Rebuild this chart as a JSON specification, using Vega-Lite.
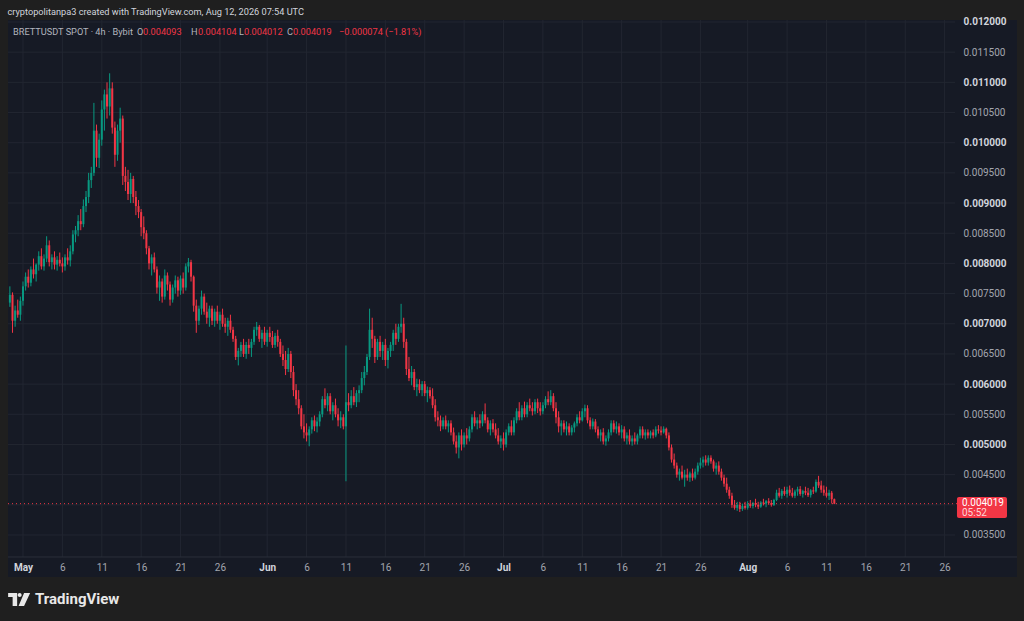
{
"$schema":"https://vega.github.io/schema/vega-lite/v6.json",
"width":1009,"height":557,
"autosize":{"type":"none"},
"padding":{"left":8,"top":20,"right":7,"bottom":44},
"background":"#1f1f1f",
"config":{"view":{"fill":"#161a25","stroke":null},"font":"Roboto"},
"title":{"text":"cryptopolitanpa3 created with TradingView.com, Aug 12, 2026 07:54 UTC","anchor":"start","offset":0,"fontSize":9.2,"fontWeight":400,"color":"#d1d4dc","font":"Roboto"},
"resolve":{"axis":{"x":"independent","y":"independent"}},
"datasets":{
"vgrid":[{"d":"2026-05-01T00:00Z"},{"d":"2026-05-06T00:00Z"},{"d":"2026-05-11T00:00Z"},{"d":"2026-05-16T00:00Z"},{"d":"2026-05-21T00:00Z"},{"d":"2026-05-26T00:00Z"},{"d":"2026-06-01T00:00Z"},{"d":"2026-06-06T00:00Z"},{"d":"2026-06-11T00:00Z"},{"d":"2026-06-16T00:00Z"},{"d":"2026-06-21T00:00Z"},{"d":"2026-06-26T00:00Z"},{"d":"2026-07-01T00:00Z"},{"d":"2026-07-06T00:00Z"},{"d":"2026-07-11T00:00Z"},{"d":"2026-07-16T00:00Z"},{"d":"2026-07-21T00:00Z"},{"d":"2026-07-26T00:00Z"},{"d":"2026-08-01T00:00Z"},{"d":"2026-08-06T00:00Z"},{"d":"2026-08-11T00:00Z"},{"d":"2026-08-16T00:00Z"},{"d":"2026-08-21T00:00Z"},{"d":"2026-08-26T00:00Z"}],
"hgrid":[{"p":0.0035},{"p":0.004},{"p":0.0045},{"p":0.005},{"p":0.0055},{"p":0.006},{"p":0.0065},{"p":0.007},{"p":0.0075},{"p":0.008},{"p":0.0085},{"p":0.009},{"p":0.0095},{"p":0.01},{"p":0.0105},{"p":0.011},{"p":0.0115},{"p":0.012}],
"last":[{"sym":"BRETTUSDT SPOT · 4h · Bybit","o":0.004093,"h":0.004104,"l":0.004012,"price":0.004019,"chg":"−0.000074 (−1.81%)","countdown":"05:52","brand":"TradingView"}],
"candles":[
{"t":"2026-04-29T08:00Z","o":0.00735,"h":0.00762,"l":0.00728,"c":0.00748},
{"t":"2026-04-29T16:00Z","o":0.00748,"h":0.00752,"l":0.00685,"c":0.00705},
{"t":"2026-04-30T00:00Z","o":0.00705,"h":0.0073,"l":0.00695,"c":0.00722},
{"t":"2026-04-30T08:00Z","o":0.00722,"h":0.0074,"l":0.0071,"c":0.00715},
{"t":"2026-04-30T16:00Z","o":0.00715,"h":0.00745,"l":0.00705,"c":0.00738},
{"t":"2026-05-01T00:00Z","o":0.00738,"h":0.0077,"l":0.0073,"c":0.00762},
{"t":"2026-05-01T08:00Z","o":0.00762,"h":0.00785,"l":0.00755,"c":0.00778},
{"t":"2026-05-01T16:00Z","o":0.00778,"h":0.0079,"l":0.0076,"c":0.00768},
{"t":"2026-05-02T00:00Z","o":0.00768,"h":0.00795,"l":0.00762,"c":0.0079},
{"t":"2026-05-02T08:00Z","o":0.0079,"h":0.00808,"l":0.00775,"c":0.00782},
{"t":"2026-05-02T16:00Z","o":0.00782,"h":0.008,"l":0.0077,"c":0.00798},
{"t":"2026-05-03T00:00Z","o":0.00798,"h":0.0082,"l":0.00788,"c":0.00812},
{"t":"2026-05-03T08:00Z","o":0.00812,"h":0.00825,"l":0.0079,"c":0.00795},
{"t":"2026-05-03T16:00Z","o":0.00795,"h":0.00815,"l":0.00788,"c":0.00808},
{"t":"2026-05-04T00:00Z","o":0.00808,"h":0.00845,"l":0.00802,"c":0.0083},
{"t":"2026-05-04T08:00Z","o":0.0083,"h":0.00838,"l":0.00795,"c":0.00802},
{"t":"2026-05-04T16:00Z","o":0.00802,"h":0.00815,"l":0.0079,"c":0.0081},
{"t":"2026-05-05T00:00Z","o":0.0081,"h":0.0082,"l":0.0079,"c":0.00798},
{"t":"2026-05-05T08:00Z","o":0.00798,"h":0.00812,"l":0.00788,"c":0.00806},
{"t":"2026-05-05T16:00Z","o":0.00806,"h":0.00818,"l":0.00795,"c":0.008},
{"t":"2026-05-06T00:00Z","o":0.008,"h":0.0081,"l":0.00785,"c":0.00795},
{"t":"2026-05-06T08:00Z","o":0.00795,"h":0.00815,"l":0.00788,"c":0.0081},
{"t":"2026-05-06T16:00Z","o":0.0081,"h":0.00825,"l":0.00798,"c":0.00805},
{"t":"2026-05-07T00:00Z","o":0.00805,"h":0.0083,"l":0.00795,"c":0.0082},
{"t":"2026-05-07T08:00Z","o":0.0082,"h":0.00855,"l":0.00815,"c":0.00848},
{"t":"2026-05-07T16:00Z","o":0.00848,"h":0.00862,"l":0.00835,"c":0.00855},
{"t":"2026-05-08T00:00Z","o":0.00855,"h":0.0088,"l":0.00845,"c":0.0087},
{"t":"2026-05-08T08:00Z","o":0.0087,"h":0.0089,"l":0.00855,"c":0.00865},
{"t":"2026-05-08T16:00Z","o":0.00865,"h":0.00906,"l":0.0086,"c":0.00895},
{"t":"2026-05-09T00:00Z","o":0.00895,"h":0.0092,"l":0.00885,"c":0.0091},
{"t":"2026-05-09T08:00Z","o":0.0091,"h":0.0095,"l":0.009,"c":0.00938},
{"t":"2026-05-09T16:00Z","o":0.00938,"h":0.0096,"l":0.00925,"c":0.0095},
{"t":"2026-05-10T00:00Z","o":0.0095,"h":0.01066,"l":0.00945,"c":0.0102},
{"t":"2026-05-10T08:00Z","o":0.0102,"h":0.0103,"l":0.0096,"c":0.00975},
{"t":"2026-05-10T16:00Z","o":0.00975,"h":0.01015,"l":0.00958,"c":0.01005},
{"t":"2026-05-11T00:00Z","o":0.01005,"h":0.0107,"l":0.00995,"c":0.01055},
{"t":"2026-05-11T08:00Z","o":0.01055,"h":0.01088,"l":0.0102,"c":0.0108},
{"t":"2026-05-11T16:00Z","o":0.0108,"h":0.011,"l":0.0104,"c":0.0106},
{"t":"2026-05-12T00:00Z","o":0.0106,"h":0.01115,"l":0.01045,"c":0.0109},
{"t":"2026-05-12T08:00Z","o":0.0109,"h":0.011,"l":0.01015,"c":0.01025},
{"t":"2026-05-12T16:00Z","o":0.01025,"h":0.01035,"l":0.0096,"c":0.0098},
{"t":"2026-05-13T00:00Z","o":0.0098,"h":0.0103,"l":0.0097,"c":0.0102},
{"t":"2026-05-13T08:00Z","o":0.0102,"h":0.01058,"l":0.01,"c":0.0104},
{"t":"2026-05-13T16:00Z","o":0.0104,"h":0.01045,"l":0.0093,"c":0.00945},
{"t":"2026-05-14T00:00Z","o":0.00945,"h":0.0096,"l":0.0092,"c":0.00935},
{"t":"2026-05-14T08:00Z","o":0.00935,"h":0.00955,"l":0.00905,"c":0.00915},
{"t":"2026-05-14T16:00Z","o":0.00915,"h":0.0095,"l":0.009,"c":0.0094},
{"t":"2026-05-15T00:00Z","o":0.0094,"h":0.00945,"l":0.009,"c":0.0091},
{"t":"2026-05-15T08:00Z","o":0.0091,"h":0.0092,"l":0.0088,"c":0.00895},
{"t":"2026-05-15T16:00Z","o":0.00895,"h":0.00905,"l":0.00875,"c":0.00885},
{"t":"2026-05-16T00:00Z","o":0.00885,"h":0.0089,"l":0.00845,"c":0.0086},
{"t":"2026-05-16T08:00Z","o":0.0086,"h":0.00878,"l":0.0084,"c":0.0085},
{"t":"2026-05-16T16:00Z","o":0.0085,"h":0.00855,"l":0.00815,"c":0.00825},
{"t":"2026-05-17T00:00Z","o":0.00825,"h":0.00829,"l":0.0079,"c":0.008},
{"t":"2026-05-17T08:00Z","o":0.008,"h":0.00815,"l":0.0078,"c":0.0081},
{"t":"2026-05-17T16:00Z","o":0.0081,"h":0.00818,"l":0.00785,"c":0.0079},
{"t":"2026-05-18T00:00Z","o":0.0079,"h":0.00795,"l":0.0075,"c":0.0076},
{"t":"2026-05-18T08:00Z","o":0.0076,"h":0.0078,"l":0.00738,"c":0.0077},
{"t":"2026-05-18T16:00Z","o":0.0077,"h":0.00775,"l":0.00735,"c":0.00745},
{"t":"2026-05-19T00:00Z","o":0.00745,"h":0.0079,"l":0.0074,"c":0.0078},
{"t":"2026-05-19T08:00Z","o":0.0078,"h":0.00785,"l":0.00755,"c":0.00765},
{"t":"2026-05-19T16:00Z","o":0.00765,"h":0.0077,"l":0.0073,"c":0.0074},
{"t":"2026-05-20T00:00Z","o":0.0074,"h":0.00765,"l":0.00735,"c":0.0076},
{"t":"2026-05-20T08:00Z","o":0.0076,"h":0.0078,"l":0.0075,"c":0.00772},
{"t":"2026-05-20T16:00Z","o":0.00772,"h":0.00778,"l":0.00745,"c":0.00755},
{"t":"2026-05-21T00:00Z","o":0.00755,"h":0.0078,"l":0.00748,"c":0.00775},
{"t":"2026-05-21T08:00Z","o":0.00775,"h":0.00785,"l":0.0075,"c":0.0076},
{"t":"2026-05-21T16:00Z","o":0.0076,"h":0.008,"l":0.00755,"c":0.00795},
{"t":"2026-05-22T00:00Z","o":0.00795,"h":0.00809,"l":0.00785,"c":0.00802},
{"t":"2026-05-22T08:00Z","o":0.00802,"h":0.00806,"l":0.0077,"c":0.00778},
{"t":"2026-05-22T16:00Z","o":0.00778,"h":0.0078,"l":0.0072,"c":0.0073},
{"t":"2026-05-23T00:00Z","o":0.0073,"h":0.0074,"l":0.00685,"c":0.00705},
{"t":"2026-05-23T08:00Z","o":0.00705,"h":0.0073,"l":0.00698,"c":0.00725},
{"t":"2026-05-23T16:00Z","o":0.00725,"h":0.00755,"l":0.00715,"c":0.00745},
{"t":"2026-05-24T00:00Z","o":0.00745,"h":0.0075,"l":0.00715,"c":0.0072},
{"t":"2026-05-24T08:00Z","o":0.0072,"h":0.00735,"l":0.007,"c":0.0071},
{"t":"2026-05-24T16:00Z","o":0.0071,"h":0.0073,"l":0.00695,"c":0.00725},
{"t":"2026-05-25T00:00Z","o":0.00725,"h":0.0073,"l":0.00698,"c":0.00705},
{"t":"2026-05-25T08:00Z","o":0.00705,"h":0.00725,"l":0.00695,"c":0.0072},
{"t":"2026-05-25T16:00Z","o":0.0072,"h":0.0073,"l":0.007,"c":0.00705},
{"t":"2026-05-26T00:00Z","o":0.00705,"h":0.0072,"l":0.0069,"c":0.00715},
{"t":"2026-05-26T08:00Z","o":0.00715,"h":0.00725,"l":0.00695,"c":0.007},
{"t":"2026-05-26T16:00Z","o":0.007,"h":0.0071,"l":0.00685,"c":0.00695},
{"t":"2026-05-27T00:00Z","o":0.00695,"h":0.0071,"l":0.0068,"c":0.00705},
{"t":"2026-05-27T08:00Z","o":0.00705,"h":0.00715,"l":0.00685,"c":0.0069},
{"t":"2026-05-27T16:00Z","o":0.0069,"h":0.00695,"l":0.0067,"c":0.00675},
{"t":"2026-05-28T00:00Z","o":0.00675,"h":0.0068,"l":0.0064,"c":0.00645},
{"t":"2026-05-28T08:00Z","o":0.00645,"h":0.0066,"l":0.00631,"c":0.00655},
{"t":"2026-05-28T16:00Z","o":0.00655,"h":0.0067,"l":0.00645,"c":0.00665},
{"t":"2026-05-29T00:00Z","o":0.00665,"h":0.00675,"l":0.00645,"c":0.0065},
{"t":"2026-05-29T08:00Z","o":0.0065,"h":0.0067,"l":0.00642,"c":0.00665},
{"t":"2026-05-29T16:00Z","o":0.00665,"h":0.00675,"l":0.0065,"c":0.0066},
{"t":"2026-05-30T00:00Z","o":0.0066,"h":0.00675,"l":0.00645,"c":0.0067},
{"t":"2026-05-30T08:00Z","o":0.0067,"h":0.00695,"l":0.00665,"c":0.0069},
{"t":"2026-05-30T16:00Z","o":0.0069,"h":0.00703,"l":0.0068,"c":0.00695},
{"t":"2026-05-31T00:00Z","o":0.00695,"h":0.00698,"l":0.0067,"c":0.00675},
{"t":"2026-05-31T08:00Z","o":0.00675,"h":0.0069,"l":0.0066,"c":0.00685},
{"t":"2026-05-31T16:00Z","o":0.00685,"h":0.00695,"l":0.00665,"c":0.0067},
{"t":"2026-06-01T00:00Z","o":0.0067,"h":0.0069,"l":0.00662,"c":0.00685},
{"t":"2026-06-01T08:00Z","o":0.00685,"h":0.00695,"l":0.0067,"c":0.00678},
{"t":"2026-06-01T16:00Z","o":0.00678,"h":0.00688,"l":0.0066,"c":0.00665},
{"t":"2026-06-02T00:00Z","o":0.00665,"h":0.00685,"l":0.0066,"c":0.0068},
{"t":"2026-06-02T08:00Z","o":0.0068,"h":0.0069,"l":0.00662,"c":0.0067},
{"t":"2026-06-02T16:00Z","o":0.0067,"h":0.00675,"l":0.00645,"c":0.0065},
{"t":"2026-06-03T00:00Z","o":0.0065,"h":0.00664,"l":0.0063,"c":0.0064},
{"t":"2026-06-03T08:00Z","o":0.0064,"h":0.00655,"l":0.00615,"c":0.00625},
{"t":"2026-06-03T16:00Z","o":0.00625,"h":0.0066,"l":0.0062,"c":0.0065},
{"t":"2026-06-04T00:00Z","o":0.0065,"h":0.00655,"l":0.0061,"c":0.0062},
{"t":"2026-06-04T08:00Z","o":0.0062,"h":0.0063,"l":0.0058,"c":0.0059},
{"t":"2026-06-04T16:00Z","o":0.0059,"h":0.006,"l":0.00565,"c":0.00575},
{"t":"2026-06-05T00:00Z","o":0.00575,"h":0.0059,"l":0.0055,"c":0.0056},
{"t":"2026-06-05T08:00Z","o":0.0056,"h":0.00565,"l":0.00525,"c":0.0053},
{"t":"2026-06-05T16:00Z","o":0.0053,"h":0.0055,"l":0.0051,"c":0.0052},
{"t":"2026-06-06T00:00Z","o":0.0052,"h":0.00535,"l":0.00505,"c":0.00515},
{"t":"2026-06-06T08:00Z","o":0.00515,"h":0.0053,"l":0.00497,"c":0.00525},
{"t":"2026-06-06T16:00Z","o":0.00525,"h":0.00545,"l":0.00518,"c":0.0054},
{"t":"2026-06-07T00:00Z","o":0.0054,"h":0.00548,"l":0.00522,"c":0.0053},
{"t":"2026-06-07T08:00Z","o":0.0053,"h":0.00545,"l":0.0052,"c":0.00538},
{"t":"2026-06-07T16:00Z","o":0.00538,"h":0.00555,"l":0.0053,"c":0.0055},
{"t":"2026-06-08T00:00Z","o":0.0055,"h":0.0058,"l":0.00545,"c":0.00575},
{"t":"2026-06-08T08:00Z","o":0.00575,"h":0.00593,"l":0.0056,"c":0.00565},
{"t":"2026-06-08T16:00Z","o":0.00565,"h":0.00585,"l":0.00555,"c":0.0058},
{"t":"2026-06-09T00:00Z","o":0.0058,"h":0.00585,"l":0.0055,"c":0.00555},
{"t":"2026-06-09T08:00Z","o":0.00555,"h":0.0057,"l":0.0054,"c":0.00565},
{"t":"2026-06-09T16:00Z","o":0.00565,"h":0.00576,"l":0.00545,"c":0.0055},
{"t":"2026-06-10T00:00Z","o":0.0055,"h":0.0056,"l":0.0053,"c":0.0054},
{"t":"2026-06-10T08:00Z","o":0.0054,"h":0.00555,"l":0.00527,"c":0.00545},
{"t":"2026-06-10T16:00Z","o":0.00545,"h":0.0055,"l":0.00525,"c":0.0053},
{"t":"2026-06-11T00:00Z","o":0.0053,"h":0.00664,"l":0.00439,"c":0.0057},
{"t":"2026-06-11T08:00Z","o":0.0057,"h":0.00585,"l":0.00555,"c":0.00565},
{"t":"2026-06-11T16:00Z","o":0.00565,"h":0.0059,"l":0.0056,"c":0.0058},
{"t":"2026-06-12T00:00Z","o":0.0058,"h":0.00595,"l":0.00565,"c":0.0057},
{"t":"2026-06-12T08:00Z","o":0.0057,"h":0.0059,"l":0.00562,"c":0.00585},
{"t":"2026-06-12T16:00Z","o":0.00585,"h":0.00598,"l":0.0057,"c":0.0059},
{"t":"2026-06-13T00:00Z","o":0.0059,"h":0.0062,"l":0.00585,"c":0.0061},
{"t":"2026-06-13T08:00Z","o":0.0061,"h":0.0063,"l":0.00598,"c":0.0062},
{"t":"2026-06-13T16:00Z","o":0.0062,"h":0.0065,"l":0.00615,"c":0.00645},
{"t":"2026-06-14T00:00Z","o":0.00645,"h":0.00725,"l":0.0064,"c":0.0069},
{"t":"2026-06-14T08:00Z","o":0.0069,"h":0.0071,"l":0.0066,"c":0.00675},
{"t":"2026-06-14T16:00Z","o":0.00675,"h":0.0068,"l":0.00635,"c":0.00645},
{"t":"2026-06-15T00:00Z","o":0.00645,"h":0.00675,"l":0.0064,"c":0.0067},
{"t":"2026-06-15T08:00Z","o":0.0067,"h":0.0068,"l":0.00645,"c":0.00655},
{"t":"2026-06-15T16:00Z","o":0.00655,"h":0.0067,"l":0.0064,"c":0.00665},
{"t":"2026-06-16T00:00Z","o":0.00665,"h":0.00675,"l":0.0063,"c":0.0064},
{"t":"2026-06-16T08:00Z","o":0.0064,"h":0.0066,"l":0.00626,"c":0.00655},
{"t":"2026-06-16T16:00Z","o":0.00655,"h":0.0067,"l":0.00645,"c":0.00665},
{"t":"2026-06-17T00:00Z","o":0.00665,"h":0.0069,"l":0.00655,"c":0.00685},
{"t":"2026-06-17T08:00Z","o":0.00685,"h":0.007,"l":0.00665,"c":0.00675},
{"t":"2026-06-17T16:00Z","o":0.00675,"h":0.007,"l":0.0067,"c":0.00695},
{"t":"2026-06-18T00:00Z","o":0.00695,"h":0.00733,"l":0.00685,"c":0.007},
{"t":"2026-06-18T08:00Z","o":0.007,"h":0.0071,"l":0.0066,"c":0.0067},
{"t":"2026-06-18T16:00Z","o":0.0067,"h":0.00675,"l":0.00615,"c":0.00625},
{"t":"2026-06-19T00:00Z","o":0.00625,"h":0.00645,"l":0.00605,"c":0.0061},
{"t":"2026-06-19T08:00Z","o":0.0061,"h":0.0063,"l":0.00598,"c":0.0062},
{"t":"2026-06-19T16:00Z","o":0.0062,"h":0.00625,"l":0.0059,"c":0.00595},
{"t":"2026-06-20T00:00Z","o":0.00595,"h":0.00609,"l":0.0058,"c":0.006},
{"t":"2026-06-20T08:00Z","o":0.006,"h":0.00608,"l":0.00585,"c":0.0059},
{"t":"2026-06-20T16:00Z","o":0.0059,"h":0.00605,"l":0.0058,"c":0.006},
{"t":"2026-06-21T00:00Z","o":0.006,"h":0.00605,"l":0.0058,"c":0.00585},
{"t":"2026-06-21T08:00Z","o":0.00585,"h":0.00596,"l":0.0057,"c":0.0059},
{"t":"2026-06-21T16:00Z","o":0.0059,"h":0.00595,"l":0.00576,"c":0.0058},
{"t":"2026-06-22T00:00Z","o":0.0058,"h":0.00593,"l":0.0056,"c":0.00565},
{"t":"2026-06-22T08:00Z","o":0.00565,"h":0.00575,"l":0.00538,"c":0.00545},
{"t":"2026-06-22T16:00Z","o":0.00545,"h":0.00555,"l":0.0053,"c":0.0054},
{"t":"2026-06-23T00:00Z","o":0.0054,"h":0.00548,"l":0.00522,"c":0.0053},
{"t":"2026-06-23T08:00Z","o":0.0053,"h":0.00545,"l":0.00525,"c":0.0054},
{"t":"2026-06-23T16:00Z","o":0.0054,"h":0.00548,"l":0.00525,"c":0.0053},
{"t":"2026-06-24T00:00Z","o":0.0053,"h":0.0054,"l":0.0052,"c":0.00535},
{"t":"2026-06-24T08:00Z","o":0.00535,"h":0.0054,"l":0.00515,"c":0.0052},
{"t":"2026-06-24T16:00Z","o":0.0052,"h":0.00528,"l":0.005,"c":0.00505},
{"t":"2026-06-25T00:00Z","o":0.00505,"h":0.00515,"l":0.00485,"c":0.00495},
{"t":"2026-06-25T08:00Z","o":0.00495,"h":0.0052,"l":0.00477,"c":0.00515},
{"t":"2026-06-25T16:00Z","o":0.00515,"h":0.00525,"l":0.0049,"c":0.005},
{"t":"2026-06-26T00:00Z","o":0.005,"h":0.0052,"l":0.00495,"c":0.00515},
{"t":"2026-06-26T08:00Z","o":0.00515,"h":0.00527,"l":0.005,"c":0.0051},
{"t":"2026-06-26T16:00Z","o":0.0051,"h":0.0053,"l":0.00505,"c":0.00525},
{"t":"2026-06-27T00:00Z","o":0.00525,"h":0.0055,"l":0.0052,"c":0.00545},
{"t":"2026-06-27T08:00Z","o":0.00545,"h":0.00555,"l":0.0053,"c":0.00535},
{"t":"2026-06-27T16:00Z","o":0.00535,"h":0.00545,"l":0.00525,"c":0.0054},
{"t":"2026-06-28T00:00Z","o":0.0054,"h":0.0055,"l":0.00527,"c":0.00535},
{"t":"2026-06-28T08:00Z","o":0.00535,"h":0.00555,"l":0.0053,"c":0.0055},
{"t":"2026-06-28T16:00Z","o":0.0055,"h":0.00568,"l":0.00535,"c":0.0054},
{"t":"2026-06-29T00:00Z","o":0.0054,"h":0.00545,"l":0.0052,"c":0.00525},
{"t":"2026-06-29T08:00Z","o":0.00525,"h":0.0054,"l":0.00515,"c":0.00535},
{"t":"2026-06-29T16:00Z","o":0.00535,"h":0.00542,"l":0.0052,"c":0.00525},
{"t":"2026-06-30T00:00Z","o":0.00525,"h":0.00535,"l":0.0051,"c":0.00515},
{"t":"2026-06-30T08:00Z","o":0.00515,"h":0.00527,"l":0.005,"c":0.00505},
{"t":"2026-06-30T16:00Z","o":0.00505,"h":0.00515,"l":0.00494,"c":0.0051},
{"t":"2026-07-01T00:00Z","o":0.0051,"h":0.0052,"l":0.0049,"c":0.005},
{"t":"2026-07-01T08:00Z","o":0.005,"h":0.00525,"l":0.00495,"c":0.0052},
{"t":"2026-07-01T16:00Z","o":0.0052,"h":0.00535,"l":0.00515,"c":0.0053},
{"t":"2026-07-02T00:00Z","o":0.0053,"h":0.0054,"l":0.00515,"c":0.0052},
{"t":"2026-07-02T08:00Z","o":0.0052,"h":0.00545,"l":0.00515,"c":0.0054},
{"t":"2026-07-02T16:00Z","o":0.0054,"h":0.0056,"l":0.00535,"c":0.00555},
{"t":"2026-07-03T00:00Z","o":0.00555,"h":0.0057,"l":0.0054,"c":0.00545},
{"t":"2026-07-03T08:00Z","o":0.00545,"h":0.00565,"l":0.0054,"c":0.0056},
{"t":"2026-07-03T16:00Z","o":0.0056,"h":0.00571,"l":0.00545,"c":0.0055},
{"t":"2026-07-04T00:00Z","o":0.0055,"h":0.0057,"l":0.00545,"c":0.00565},
{"t":"2026-07-04T08:00Z","o":0.00565,"h":0.00576,"l":0.00555,"c":0.0056},
{"t":"2026-07-04T16:00Z","o":0.0056,"h":0.0057,"l":0.00548,"c":0.00555},
{"t":"2026-07-05T00:00Z","o":0.00555,"h":0.00575,"l":0.0055,"c":0.0057},
{"t":"2026-07-05T08:00Z","o":0.0057,"h":0.00576,"l":0.00552,"c":0.0056},
{"t":"2026-07-05T16:00Z","o":0.0056,"h":0.0057,"l":0.00548,"c":0.00555},
{"t":"2026-07-06T00:00Z","o":0.00555,"h":0.0057,"l":0.0055,"c":0.00565},
{"t":"2026-07-06T08:00Z","o":0.00565,"h":0.0058,"l":0.0056,"c":0.00575},
{"t":"2026-07-06T16:00Z","o":0.00575,"h":0.00588,"l":0.00565,"c":0.0057},
{"t":"2026-07-07T00:00Z","o":0.0057,"h":0.0059,"l":0.00565,"c":0.0058},
{"t":"2026-07-07T08:00Z","o":0.0058,"h":0.00585,"l":0.00555,"c":0.0056},
{"t":"2026-07-07T16:00Z","o":0.0056,"h":0.0057,"l":0.00535,"c":0.00545},
{"t":"2026-07-08T00:00Z","o":0.00545,"h":0.00555,"l":0.0052,"c":0.0053},
{"t":"2026-07-08T08:00Z","o":0.0053,"h":0.0054,"l":0.00515,"c":0.00535},
{"t":"2026-07-08T16:00Z","o":0.00535,"h":0.0054,"l":0.0052,"c":0.00525},
{"t":"2026-07-09T00:00Z","o":0.00525,"h":0.00538,"l":0.00515,"c":0.0053},
{"t":"2026-07-09T08:00Z","o":0.0053,"h":0.00535,"l":0.00515,"c":0.0052},
{"t":"2026-07-09T16:00Z","o":0.0052,"h":0.00532,"l":0.00515,"c":0.00528},
{"t":"2026-07-10T00:00Z","o":0.00528,"h":0.00538,"l":0.0052,"c":0.00535},
{"t":"2026-07-10T08:00Z","o":0.00535,"h":0.0055,"l":0.0053,"c":0.00545},
{"t":"2026-07-10T16:00Z","o":0.00545,"h":0.00555,"l":0.00535,"c":0.0054},
{"t":"2026-07-11T00:00Z","o":0.0054,"h":0.0056,"l":0.00538,"c":0.00555},
{"t":"2026-07-11T08:00Z","o":0.00555,"h":0.00566,"l":0.00545,"c":0.0056},
{"t":"2026-07-11T16:00Z","o":0.0056,"h":0.00565,"l":0.00535,"c":0.0054},
{"t":"2026-07-12T00:00Z","o":0.0054,"h":0.00545,"l":0.00525,"c":0.0053},
{"t":"2026-07-12T08:00Z","o":0.0053,"h":0.00543,"l":0.00525,"c":0.00538},
{"t":"2026-07-12T16:00Z","o":0.00538,"h":0.00542,"l":0.0052,"c":0.00525},
{"t":"2026-07-13T00:00Z","o":0.00525,"h":0.0053,"l":0.0051,"c":0.00515},
{"t":"2026-07-13T08:00Z","o":0.00515,"h":0.00525,"l":0.00505,"c":0.0052},
{"t":"2026-07-13T16:00Z","o":0.0052,"h":0.00527,"l":0.005,"c":0.00505},
{"t":"2026-07-14T00:00Z","o":0.00505,"h":0.00515,"l":0.00498,"c":0.0051},
{"t":"2026-07-14T08:00Z","o":0.0051,"h":0.00525,"l":0.00505,"c":0.0052},
{"t":"2026-07-14T16:00Z","o":0.0052,"h":0.0054,"l":0.00515,"c":0.00535},
{"t":"2026-07-15T00:00Z","o":0.00535,"h":0.0054,"l":0.0052,"c":0.00525},
{"t":"2026-07-15T08:00Z","o":0.00525,"h":0.00538,"l":0.00518,"c":0.0053},
{"t":"2026-07-15T16:00Z","o":0.0053,"h":0.00535,"l":0.00515,"c":0.0052},
{"t":"2026-07-16T00:00Z","o":0.0052,"h":0.00532,"l":0.0051,"c":0.00525},
{"t":"2026-07-16T08:00Z","o":0.00525,"h":0.0053,"l":0.00505,"c":0.0051},
{"t":"2026-07-16T16:00Z","o":0.0051,"h":0.0052,"l":0.005,"c":0.00515},
{"t":"2026-07-17T00:00Z","o":0.00515,"h":0.00525,"l":0.005,"c":0.00505},
{"t":"2026-07-17T08:00Z","o":0.00505,"h":0.00515,"l":0.00498,"c":0.0051},
{"t":"2026-07-17T16:00Z","o":0.0051,"h":0.0052,"l":0.005,"c":0.00505},
{"t":"2026-07-18T00:00Z","o":0.00505,"h":0.00518,"l":0.005,"c":0.00515},
{"t":"2026-07-18T08:00Z","o":0.00515,"h":0.0053,"l":0.0051,"c":0.00525},
{"t":"2026-07-18T16:00Z","o":0.00525,"h":0.0053,"l":0.0051,"c":0.00515},
{"t":"2026-07-19T00:00Z","o":0.00515,"h":0.00525,"l":0.00508,"c":0.0052},
{"t":"2026-07-19T08:00Z","o":0.0052,"h":0.00525,"l":0.0051,"c":0.00515},
{"t":"2026-07-19T16:00Z","o":0.00515,"h":0.00523,"l":0.0051,"c":0.0052},
{"t":"2026-07-20T00:00Z","o":0.0052,"h":0.00525,"l":0.0051,"c":0.00515},
{"t":"2026-07-20T08:00Z","o":0.00515,"h":0.0053,"l":0.00512,"c":0.00525},
{"t":"2026-07-20T16:00Z","o":0.00525,"h":0.00532,"l":0.00518,"c":0.00523},
{"t":"2026-07-21T00:00Z","o":0.00523,"h":0.0053,"l":0.00515,"c":0.0052},
{"t":"2026-07-21T08:00Z","o":0.0052,"h":0.0053,"l":0.00518,"c":0.00526},
{"t":"2026-07-21T16:00Z","o":0.00526,"h":0.00528,"l":0.0051,"c":0.00515},
{"t":"2026-07-22T00:00Z","o":0.00515,"h":0.0052,"l":0.0049,"c":0.00495},
{"t":"2026-07-22T08:00Z","o":0.00495,"h":0.005,"l":0.0047,"c":0.00475},
{"t":"2026-07-22T16:00Z","o":0.00475,"h":0.00485,"l":0.0046,"c":0.00465},
{"t":"2026-07-23T00:00Z","o":0.00465,"h":0.0047,"l":0.00445,"c":0.0045},
{"t":"2026-07-23T08:00Z","o":0.0045,"h":0.0046,"l":0.0044,"c":0.00455},
{"t":"2026-07-23T16:00Z","o":0.00455,"h":0.00465,"l":0.00442,"c":0.00445},
{"t":"2026-07-24T00:00Z","o":0.00445,"h":0.00458,"l":0.0043,"c":0.0045},
{"t":"2026-07-24T08:00Z","o":0.0045,"h":0.0046,"l":0.0044,"c":0.00445},
{"t":"2026-07-24T16:00Z","o":0.00445,"h":0.00455,"l":0.00438,"c":0.00452},
{"t":"2026-07-25T00:00Z","o":0.00452,"h":0.0046,"l":0.0044,"c":0.00445},
{"t":"2026-07-25T08:00Z","o":0.00445,"h":0.0046,"l":0.00442,"c":0.00455},
{"t":"2026-07-25T16:00Z","o":0.00455,"h":0.0047,"l":0.0045,"c":0.00465},
{"t":"2026-07-26T00:00Z","o":0.00465,"h":0.00478,"l":0.0046,"c":0.0047},
{"t":"2026-07-26T08:00Z","o":0.0047,"h":0.0048,"l":0.00462,"c":0.00475},
{"t":"2026-07-26T16:00Z","o":0.00475,"h":0.00482,"l":0.00465,"c":0.0047},
{"t":"2026-07-27T00:00Z","o":0.0047,"h":0.00482,"l":0.00465,"c":0.00478},
{"t":"2026-07-27T08:00Z","o":0.00478,"h":0.00482,"l":0.00468,"c":0.00472},
{"t":"2026-07-27T16:00Z","o":0.00472,"h":0.00475,"l":0.00455,"c":0.0046},
{"t":"2026-07-28T00:00Z","o":0.0046,"h":0.0047,"l":0.0045,"c":0.00465},
{"t":"2026-07-28T08:00Z","o":0.00465,"h":0.00472,"l":0.0045,"c":0.00455},
{"t":"2026-07-28T16:00Z","o":0.00455,"h":0.0046,"l":0.0044,"c":0.00445},
{"t":"2026-07-29T00:00Z","o":0.00445,"h":0.0045,"l":0.0043,"c":0.00435},
{"t":"2026-07-29T08:00Z","o":0.00435,"h":0.00445,"l":0.0042,"c":0.00425},
{"t":"2026-07-29T16:00Z","o":0.00425,"h":0.0043,"l":0.0041,"c":0.00415},
{"t":"2026-07-30T00:00Z","o":0.00415,"h":0.0042,"l":0.00395,"c":0.004},
{"t":"2026-07-30T08:00Z","o":0.004,"h":0.00408,"l":0.00392,"c":0.00395},
{"t":"2026-07-30T16:00Z","o":0.00395,"h":0.00405,"l":0.0039,"c":0.004},
{"t":"2026-07-31T00:00Z","o":0.004,"h":0.00405,"l":0.00388,"c":0.00393},
{"t":"2026-07-31T08:00Z","o":0.00393,"h":0.00402,"l":0.0039,"c":0.00398},
{"t":"2026-07-31T16:00Z","o":0.00398,"h":0.00405,"l":0.00392,"c":0.00395},
{"t":"2026-08-01T00:00Z","o":0.00395,"h":0.00406,"l":0.00392,"c":0.00402},
{"t":"2026-08-01T08:00Z","o":0.00402,"h":0.00408,"l":0.00395,"c":0.00398},
{"t":"2026-08-01T16:00Z","o":0.00398,"h":0.00405,"l":0.00394,"c":0.00403},
{"t":"2026-08-02T00:00Z","o":0.00403,"h":0.0041,"l":0.00396,"c":0.004},
{"t":"2026-08-02T08:00Z","o":0.004,"h":0.00405,"l":0.00393,"c":0.00397},
{"t":"2026-08-02T16:00Z","o":0.00397,"h":0.00406,"l":0.00395,"c":0.00404},
{"t":"2026-08-03T00:00Z","o":0.00404,"h":0.0041,"l":0.00399,"c":0.00402},
{"t":"2026-08-03T08:00Z","o":0.00402,"h":0.00408,"l":0.00396,"c":0.00406},
{"t":"2026-08-03T16:00Z","o":0.00406,"h":0.00411,"l":0.004,"c":0.00403},
{"t":"2026-08-04T00:00Z","o":0.00403,"h":0.00408,"l":0.00397,"c":0.004},
{"t":"2026-08-04T08:00Z","o":0.004,"h":0.0041,"l":0.00398,"c":0.00408},
{"t":"2026-08-04T16:00Z","o":0.00408,"h":0.00425,"l":0.00406,"c":0.0042},
{"t":"2026-08-05T00:00Z","o":0.0042,"h":0.00428,"l":0.00412,"c":0.00415},
{"t":"2026-08-05T08:00Z","o":0.00415,"h":0.00426,"l":0.0041,"c":0.00423},
{"t":"2026-08-05T16:00Z","o":0.00423,"h":0.0043,"l":0.00415,"c":0.00418},
{"t":"2026-08-06T00:00Z","o":0.00418,"h":0.0043,"l":0.00412,"c":0.00425},
{"t":"2026-08-06T08:00Z","o":0.00425,"h":0.00432,"l":0.00415,"c":0.0042},
{"t":"2026-08-06T16:00Z","o":0.0042,"h":0.00428,"l":0.00412,"c":0.00415},
{"t":"2026-08-07T00:00Z","o":0.00415,"h":0.00425,"l":0.00411,"c":0.00422},
{"t":"2026-08-07T08:00Z","o":0.00422,"h":0.0043,"l":0.00415,"c":0.00426},
{"t":"2026-08-07T16:00Z","o":0.00426,"h":0.00431,"l":0.00415,"c":0.00418},
{"t":"2026-08-08T00:00Z","o":0.00418,"h":0.00425,"l":0.00412,"c":0.00423},
{"t":"2026-08-08T08:00Z","o":0.00423,"h":0.0043,"l":0.00416,"c":0.0042},
{"t":"2026-08-08T16:00Z","o":0.0042,"h":0.00428,"l":0.00413,"c":0.00416},
{"t":"2026-08-09T00:00Z","o":0.00416,"h":0.00426,"l":0.00412,"c":0.00424},
{"t":"2026-08-09T08:00Z","o":0.00424,"h":0.0043,"l":0.00418,"c":0.00422},
{"t":"2026-08-09T16:00Z","o":0.00422,"h":0.00442,"l":0.0042,"c":0.00438},
{"t":"2026-08-10T00:00Z","o":0.00438,"h":0.00448,"l":0.00428,"c":0.00432},
{"t":"2026-08-10T08:00Z","o":0.00432,"h":0.0044,"l":0.0042,"c":0.00425},
{"t":"2026-08-10T16:00Z","o":0.00425,"h":0.00432,"l":0.00415,"c":0.0042},
{"t":"2026-08-11T00:00Z","o":0.0042,"h":0.0043,"l":0.00412,"c":0.00415},
{"t":"2026-08-11T08:00Z","o":0.00415,"h":0.00425,"l":0.00408,"c":0.0042},
{"t":"2026-08-11T16:00Z","o":0.0042,"h":0.00423,"l":0.00402,"c":0.004093},
{"t":"2026-08-12T00:00Z","o":0.004093,"h":0.004104,"l":0.004012,"c":0.004019}
]},
"layer":[
{"data":{"name":"vgrid"},"mark":{"type":"rule","color":"#222631","strokeWidth":1},
 "encoding":{
  "x":{"field":"d","type":"temporal","scale":{"type":"utc","padding":0,"domain":[{"year":2026,"month":4,"date":29,"hours":2,"minutes":18,"utc":true},{"year":2026,"month":9,"date":4,"hours":4,"minutes":34,"utc":true}]},"axis":null},
  "y":{"datum":0.003136,"type":"quantitative","scale":{"domain":[0.002804,0.012033],"nice":false,"zero":false,"padding":0},"axis":null},
  "y2":{"datum":0.012033}}},
{"data":{"name":"hgrid"},"mark":{"type":"rule","color":"#222631","strokeWidth":1},
 "encoding":{
  "y":{"field":"p","type":"quantitative","scale":{"domain":[0.002804,0.012033],"nice":false,"zero":false,"padding":0},"axis":null},
  "x":{"datum":{"year":2026,"month":4,"date":29,"hours":2,"minutes":18,"utc":true},"type":"temporal","scale":{"type":"utc","padding":0,"domain":[{"year":2026,"month":4,"date":29,"hours":2,"minutes":18,"utc":true},{"year":2026,"month":9,"date":4,"hours":4,"minutes":34,"utc":true}]},"axis":null},
  "x2":{"datum":{"year":2026,"month":8,"date":27,"hours":7,"minutes":40,"utc":true}}}},
{"data":{"name":"last"},"mark":{"type":"rule","color":"#2a2e39","strokeWidth":1},
 "encoding":{
  "y":{"datum":0.003136,"type":"quantitative","scale":{"domain":[0.002804,0.012033],"nice":false,"zero":false,"padding":0},"axis":null},
  "x":{"datum":{"year":2026,"month":4,"date":29,"hours":2,"minutes":18,"utc":true},"type":"temporal","scale":{"type":"utc","padding":0,"domain":[{"year":2026,"month":4,"date":29,"hours":2,"minutes":18,"utc":true},{"year":2026,"month":9,"date":4,"hours":4,"minutes":34,"utc":true}]},"axis":null},
  "x2":{"datum":{"year":2026,"month":9,"date":4,"hours":4,"minutes":34,"utc":true}}}},
{"data":{"name":"candles"},"mark":{"type":"rule","strokeWidth":1},
 "encoding":{
  "x":{"field":"t","type":"temporal","scale":{"type":"utc","padding":0,"domain":[{"year":2026,"month":4,"date":29,"hours":2,"minutes":18,"utc":true},{"year":2026,"month":9,"date":4,"hours":4,"minutes":34,"utc":true}]},
   "axis":{"orient":"bottom","offset":-20,"title":null,"grid":false,"ticks":false,"domain":false,"labelFontSize":10,"labelPadding":5,"labelFont":"Roboto","labelOverlap":false,"labelFlush":false,"labelBound":false,
    "values":[{"year":2026,"month":5,"date":1,"utc":true},{"year":2026,"month":5,"date":6,"utc":true},{"year":2026,"month":5,"date":11,"utc":true},{"year":2026,"month":5,"date":16,"utc":true},{"year":2026,"month":5,"date":21,"utc":true},{"year":2026,"month":5,"date":26,"utc":true},{"year":2026,"month":6,"date":1,"utc":true},{"year":2026,"month":6,"date":6,"utc":true},{"year":2026,"month":6,"date":11,"utc":true},{"year":2026,"month":6,"date":16,"utc":true},{"year":2026,"month":6,"date":21,"utc":true},{"year":2026,"month":6,"date":26,"utc":true},{"year":2026,"month":7,"date":1,"utc":true},{"year":2026,"month":7,"date":6,"utc":true},{"year":2026,"month":7,"date":11,"utc":true},{"year":2026,"month":7,"date":16,"utc":true},{"year":2026,"month":7,"date":21,"utc":true},{"year":2026,"month":7,"date":26,"utc":true},{"year":2026,"month":8,"date":1,"utc":true},{"year":2026,"month":8,"date":6,"utc":true},{"year":2026,"month":8,"date":11,"utc":true},{"year":2026,"month":8,"date":16,"utc":true},{"year":2026,"month":8,"date":21,"utc":true},{"year":2026,"month":8,"date":26,"utc":true}],
    "labelExpr":"utcdate(datum.value)==1 ? utcFormat(datum.value,'%b') : utcFormat(datum.value,'%-d')",
    "labelColor":{"condition":{"test":"utcdate(datum.value)==1","value":"#d1d4dc"},"value":"#a3a6af"},
    "labelFontWeight":{"condition":{"test":"utcdate(datum.value)==1","value":"bold"},"value":"normal"}}},
  "y":{"field":"l","type":"quantitative","scale":{"domain":[0.002804,0.012033],"nice":false,"zero":false,"padding":0},
   "axis":{"orient":"right","offset":-54,"title":null,"grid":false,"ticks":false,"tickSize":0,"domain":false,"labelPadding":0,"labelFontSize":10,"labelFont":"Roboto","labelAlign":"left","labelBaseline":"middle","labelFlush":false,"labelOverlap":false,"labelBound":false,"format":".6f",
    "values":[0.0035,0.0045,0.005,0.0055,0.006,0.0065,0.007,0.0075,0.008,0.0085,0.009,0.0095,0.01,0.0105,0.011,0.0115,0.012],
    "labelColor":{"condition":{"test":"round(datum.value*10000)%10==0","value":"#d1d4dc"},"value":"#a3a6af"},
    "labelFontWeight":{"condition":{"test":"round(datum.value*10000)%10==0","value":"bold"},"value":"normal"}}},
  "y2":{"field":"h"},
  "color":{"condition":{"test":"datum.c >= datum.o","value":"#089981"},"value":"#f23645"}}},
{"data":{"name":"candles"},"mark":{"type":"bar","size":2},
 "encoding":{
  "x":{"field":"t","type":"temporal","scale":{"type":"utc","padding":0,"domain":[{"year":2026,"month":4,"date":29,"hours":2,"minutes":18,"utc":true},{"year":2026,"month":9,"date":4,"hours":4,"minutes":34,"utc":true}]},"axis":null},
  "y":{"field":"o","type":"quantitative","scale":{"domain":[0.002804,0.012033],"nice":false,"zero":false,"padding":0},"axis":null},
  "y2":{"field":"c"},
  "color":{"condition":{"test":"datum.c >= datum.o","value":"#089981"},"value":"#f23645"}}},
{"data":{"name":"last"},"mark":{"type":"rule","color":"#f23645","strokeWidth":1,"strokeDash":[1,3]},
 "encoding":{
  "y":{"field":"price","type":"quantitative","scale":{"domain":[0.002804,0.012033],"nice":false,"zero":false,"padding":0},"axis":null},
  "x":{"datum":{"year":2026,"month":4,"date":29,"hours":2,"minutes":18,"utc":true},"type":"temporal","scale":{"type":"utc","padding":0,"domain":[{"year":2026,"month":4,"date":29,"hours":2,"minutes":18,"utc":true},{"year":2026,"month":9,"date":4,"hours":4,"minutes":34,"utc":true}]},"axis":null},
  "x2":{"datum":{"year":2026,"month":8,"date":27,"hours":13,"minutes":40,"utc":true}}}},
{"data":{"name":"last"},"mark":{"type":"rect","color":"#f23645","cornerRadius":2},
 "encoding":{
  "x":{"datum":{"year":2026,"month":8,"date":27,"hours":13,"minutes":40,"utc":true},"type":"temporal","scale":{"type":"utc","padding":0,"domain":[{"year":2026,"month":4,"date":29,"hours":2,"minutes":18,"utc":true},{"year":2026,"month":9,"date":4,"hours":4,"minutes":34,"utc":true}]},"axis":null},
  "x2":{"datum":{"year":2026,"month":9,"date":2,"hours":22,"minutes":5,"utc":true}},
  "y":{"datum":0.00413,"type":"quantitative","scale":{"domain":[0.002804,0.012033],"nice":false,"zero":false,"padding":0},"axis":null},
  "y2":{"datum":0.003782}}},
{"data":{"name":"last"},"mark":{"type":"text","align":"left","baseline":"middle","fontSize":10,"color":"#ffffff","font":"Roboto"},
 "encoding":{
  "x":{"datum":{"year":2026,"month":8,"date":28,"hours":5,"minutes":0,"utc":true},"type":"temporal","scale":{"type":"utc","padding":0,"domain":[{"year":2026,"month":4,"date":29,"hours":2,"minutes":18,"utc":true},{"year":2026,"month":9,"date":4,"hours":4,"minutes":34,"utc":true}]},"axis":null},
  "y":{"datum":0.00403,"type":"quantitative","scale":{"domain":[0.002804,0.012033],"nice":false,"zero":false,"padding":0},"axis":null},
  "text":{"field":"price","format":".6f"}}},
{"data":{"name":"last"},"mark":{"type":"text","align":"left","baseline":"middle","fontSize":10,"color":"#ffd6da","font":"Roboto"},
 "encoding":{
  "x":{"datum":{"year":2026,"month":8,"date":28,"hours":5,"minutes":0,"utc":true},"type":"temporal","scale":{"type":"utc","padding":0,"domain":[{"year":2026,"month":4,"date":29,"hours":2,"minutes":18,"utc":true},{"year":2026,"month":9,"date":4,"hours":4,"minutes":34,"utc":true}]},"axis":null},
  "y":{"datum":0.003865,"type":"quantitative","scale":{"domain":[0.002804,0.012033],"nice":false,"zero":false,"padding":0},"axis":null},
  "text":{"field":"countdown"}}},
{"data":{"name":"last"},"mark":{"type":"text","align":"left","baseline":"middle","fontSize":9.2,"color":"#b2b5be","font":"Roboto"},
 "encoding":{
  "x":{"datum":{"year":2026,"month":4,"date":29,"hours":17,"minutes":32,"utc":true},"type":"temporal","scale":{"type":"utc","padding":0,"domain":[{"year":2026,"month":4,"date":29,"hours":2,"minutes":18,"utc":true},{"year":2026,"month":9,"date":4,"hours":4,"minutes":34,"utc":true}]},"axis":null},
  "y":{"datum":0.011834,"type":"quantitative","scale":{"domain":[0.002804,0.012033],"nice":false,"zero":false,"padding":0},"axis":null},
  "text":{"field":"sym"}}},
{"data":{"name":"last"},"mark":{"type":"text","align":"left","baseline":"middle","fontSize":9.2,"color":"#b2b5be","font":"Roboto","text":"O"},
 "encoding":{
  "x":{"datum":{"year":2026,"month":5,"date":15,"hours":11,"minutes":21,"utc":true},"type":"temporal","scale":{"type":"utc","padding":0,"domain":[{"year":2026,"month":4,"date":29,"hours":2,"minutes":18,"utc":true},{"year":2026,"month":9,"date":4,"hours":4,"minutes":34,"utc":true}]},"axis":null},
  "y":{"datum":0.011834,"type":"quantitative","scale":{"domain":[0.002804,0.012033],"nice":false,"zero":false,"padding":0},"axis":null}}},
{"data":{"name":"last"},"mark":{"type":"text","align":"left","baseline":"middle","fontSize":9.2,"color":"#f23645","font":"Roboto"},
 "encoding":{
  "x":{"datum":{"year":2026,"month":5,"date":16,"hours":5,"minutes":37,"utc":true},"type":"temporal","scale":{"type":"utc","padding":0,"domain":[{"year":2026,"month":4,"date":29,"hours":2,"minutes":18,"utc":true},{"year":2026,"month":9,"date":4,"hours":4,"minutes":34,"utc":true}]},"axis":null},
  "y":{"datum":0.011834,"type":"quantitative","scale":{"domain":[0.002804,0.012033],"nice":false,"zero":false,"padding":0},"axis":null},
  "text":{"field":"o","format":".6f"}}},
{"data":{"name":"last"},"mark":{"type":"text","align":"left","baseline":"middle","fontSize":9.2,"color":"#b2b5be","font":"Roboto","text":"H"},
 "encoding":{
  "x":{"datum":{"year":2026,"month":5,"date":22,"hours":7,"minutes":52,"utc":true},"type":"temporal","scale":{"type":"utc","padding":0,"domain":[{"year":2026,"month":4,"date":29,"hours":2,"minutes":18,"utc":true},{"year":2026,"month":9,"date":4,"hours":4,"minutes":34,"utc":true}]},"axis":null},
  "y":{"datum":0.011834,"type":"quantitative","scale":{"domain":[0.002804,0.012033],"nice":false,"zero":false,"padding":0},"axis":null}}},
{"data":{"name":"last"},"mark":{"type":"text","align":"left","baseline":"middle","fontSize":9.2,"color":"#f23645","font":"Roboto"},
 "encoding":{
  "x":{"datum":{"year":2026,"month":5,"date":23,"hours":5,"minutes":11,"utc":true},"type":"temporal","scale":{"type":"utc","padding":0,"domain":[{"year":2026,"month":4,"date":29,"hours":2,"minutes":18,"utc":true},{"year":2026,"month":9,"date":4,"hours":4,"minutes":34,"utc":true}]},"axis":null},
  "y":{"datum":0.011834,"type":"quantitative","scale":{"domain":[0.002804,0.012033],"nice":false,"zero":false,"padding":0},"axis":null},
  "text":{"field":"h","format":".6f"}}},
{"data":{"name":"last"},"mark":{"type":"text","align":"left","baseline":"middle","fontSize":9.2,"color":"#b2b5be","font":"Roboto","text":"L"},
 "encoding":{
  "x":{"datum":{"year":2026,"month":5,"date":28,"hours":10,"minutes":7,"utc":true},"type":"temporal","scale":{"type":"utc","padding":0,"domain":[{"year":2026,"month":4,"date":29,"hours":2,"minutes":18,"utc":true},{"year":2026,"month":9,"date":4,"hours":4,"minutes":34,"utc":true}]},"axis":null},
  "y":{"datum":0.011834,"type":"quantitative","scale":{"domain":[0.002804,0.012033],"nice":false,"zero":false,"padding":0},"axis":null}}},
{"data":{"name":"last"},"mark":{"type":"text","align":"left","baseline":"middle","fontSize":9.2,"color":"#f23645","font":"Roboto"},
 "encoding":{
  "x":{"datum":{"year":2026,"month":5,"date":29,"hours":1,"minutes":20,"utc":true},"type":"temporal","scale":{"type":"utc","padding":0,"domain":[{"year":2026,"month":4,"date":29,"hours":2,"minutes":18,"utc":true},{"year":2026,"month":9,"date":4,"hours":4,"minutes":34,"utc":true}]},"axis":null},
  "y":{"datum":0.011834,"type":"quantitative","scale":{"domain":[0.002804,0.012033],"nice":false,"zero":false,"padding":0},"axis":null},
  "text":{"field":"l","format":".6f"}}},
{"data":{"name":"last"},"mark":{"type":"text","align":"left","baseline":"middle","fontSize":9.2,"color":"#b2b5be","font":"Roboto","text":"C"},
 "encoding":{
  "x":{"datum":{"year":2026,"month":6,"date":3,"hours":12,"minutes":21,"utc":true},"type":"temporal","scale":{"type":"utc","padding":0,"domain":[{"year":2026,"month":4,"date":29,"hours":2,"minutes":18,"utc":true},{"year":2026,"month":9,"date":4,"hours":4,"minutes":34,"utc":true}]},"axis":null},
  "y":{"datum":0.011834,"type":"quantitative","scale":{"domain":[0.002804,0.012033],"nice":false,"zero":false,"padding":0},"axis":null}}},
{"data":{"name":"last"},"mark":{"type":"text","align":"left","baseline":"middle","fontSize":9.2,"color":"#f23645","font":"Roboto"},
 "encoding":{
  "x":{"datum":{"year":2026,"month":6,"date":4,"hours":6,"minutes":39,"utc":true},"type":"temporal","scale":{"type":"utc","padding":0,"domain":[{"year":2026,"month":4,"date":29,"hours":2,"minutes":18,"utc":true},{"year":2026,"month":9,"date":4,"hours":4,"minutes":34,"utc":true}]},"axis":null},
  "y":{"datum":0.011834,"type":"quantitative","scale":{"domain":[0.002804,0.012033],"nice":false,"zero":false,"padding":0},"axis":null},
  "text":{"field":"price","format":".6f"}}},
{"data":{"name":"last"},"mark":{"type":"text","align":"left","baseline":"middle","fontSize":9.2,"color":"#f23645","font":"Roboto"},
 "encoding":{
  "x":{"datum":{"year":2026,"month":6,"date":10,"hours":2,"minutes":48,"utc":true},"type":"temporal","scale":{"type":"utc","padding":0,"domain":[{"year":2026,"month":4,"date":29,"hours":2,"minutes":18,"utc":true},{"year":2026,"month":9,"date":4,"hours":4,"minutes":34,"utc":true}]},"axis":null},
  "y":{"datum":0.011834,"type":"quantitative","scale":{"domain":[0.002804,0.012033],"nice":false,"zero":false,"padding":0},"axis":null},
  "text":{"field":"chg"}}},
{"data":{"name":"last"},"mark":{"type":"point","filled":true,"color":"#e8e8e8","opacity":1,"size":484,"strokeWidth":0,"shape":"M-1,-0.59L-0.18,-0.59L-0.18,0.59L-0.59,0.59L-0.59,-0.23L-1,-0.23Z M-0.13,-0.41A0.18,0.18 0 1,0 0.23,-0.41A0.18,0.18 0 1,0 -0.13,-0.41Z M0.45,-0.59L1,-0.59L0.45,0.59L-0.05,0.59Z"},
 "encoding":{
  "x":{"datum":{"year":2026,"month":4,"date":30,"hours":12,"minutes":12,"utc":true},"type":"temporal","scale":{"type":"utc","padding":0,"domain":[{"year":2026,"month":4,"date":29,"hours":2,"minutes":18,"utc":true},{"year":2026,"month":9,"date":4,"hours":4,"minutes":34,"utc":true}]},"axis":null},
  "y":{"datum":0.0024314,"type":"quantitative","scale":{"domain":[0.002804,0.012033],"nice":false,"zero":false,"padding":0},"axis":null}}},
{"data":{"name":"last"},"mark":{"type":"text","align":"left","baseline":"middle","fontSize":15,"fontWeight":"bold","color":"#e8e8e8","font":"Roboto"},
 "encoding":{
  "x":{"datum":{"year":2026,"month":5,"date":2,"hours":12,"minutes":33,"utc":true},"type":"temporal","scale":{"type":"utc","padding":0,"domain":[{"year":2026,"month":4,"date":29,"hours":2,"minutes":18,"utc":true},{"year":2026,"month":9,"date":4,"hours":4,"minutes":34,"utc":true}]},"axis":null},
  "y":{"datum":0.00244,"type":"quantitative","scale":{"domain":[0.002804,0.012033],"nice":false,"zero":false,"padding":0},"axis":null},
  "text":{"field":"brand"}}}
]
}
